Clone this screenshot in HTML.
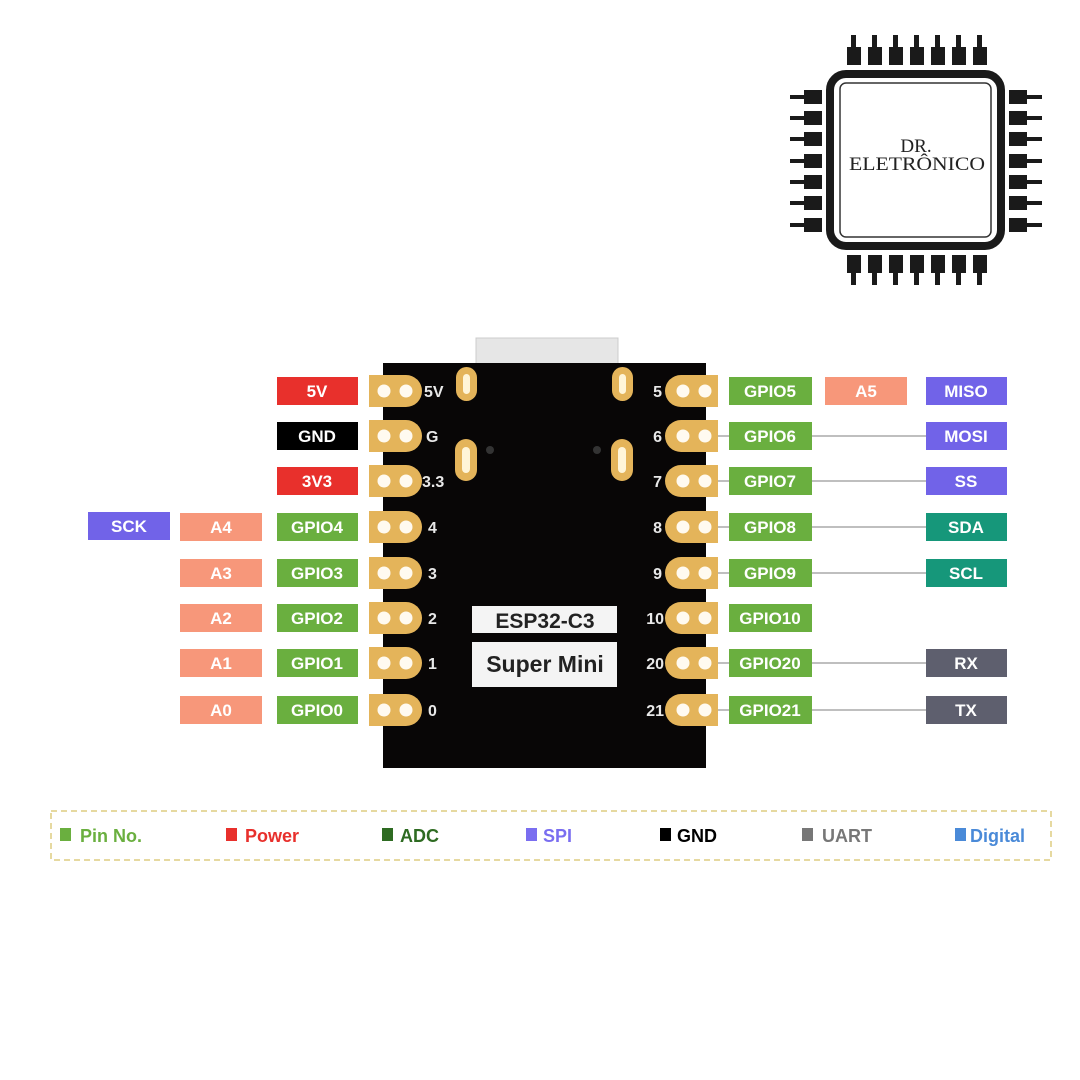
<!DOCTYPE html>
<html><head><meta charset="utf-8"><style>
html,body{margin:0;padding:0;background:#fff;}
svg{display:block;}
text{font-family:"Liberation Sans",sans-serif;font-weight:bold;}
.lb{font-size:17px;fill:#fff;text-anchor:middle;}
.pn{font-size:16px;fill:#e8e8e8;}
</style></head><body>
<svg width="1080" height="1080" viewBox="0 0 1080 1080" xmlns="http://www.w3.org/2000/svg">
<rect width="1080" height="1080" fill="#fff"/>
<!-- logo -->
<g fill="#1a1a1a">
<g id="tp">
<rect x="851" y="35" width="5" height="14"/><rect x="847" y="47" width="14" height="18"/>
<rect x="872" y="35" width="5" height="14"/><rect x="868" y="47" width="14" height="18"/>
<rect x="893" y="35" width="5" height="14"/><rect x="889" y="47" width="14" height="18"/>
<rect x="914" y="35" width="5" height="14"/><rect x="910" y="47" width="14" height="18"/>
<rect x="935" y="35" width="5" height="14"/><rect x="931" y="47" width="14" height="18"/>
<rect x="956" y="35" width="5" height="14"/><rect x="952" y="47" width="14" height="18"/>
<rect x="977" y="35" width="5" height="14"/><rect x="973" y="47" width="14" height="18"/>
</g>
<g transform="translate(0,320) scale(1,-1)">
<rect x="851" y="35" width="5" height="14"/><rect x="847" y="47" width="14" height="18"/>
<rect x="872" y="35" width="5" height="14"/><rect x="868" y="47" width="14" height="18"/>
<rect x="893" y="35" width="5" height="14"/><rect x="889" y="47" width="14" height="18"/>
<rect x="914" y="35" width="5" height="14"/><rect x="910" y="47" width="14" height="18"/>
<rect x="935" y="35" width="5" height="14"/><rect x="931" y="47" width="14" height="18"/>
<rect x="956" y="35" width="5" height="14"/><rect x="952" y="47" width="14" height="18"/>
<rect x="977" y="35" width="5" height="14"/><rect x="973" y="47" width="14" height="18"/>
</g>
<rect x="790" y="95" width="16" height="4"/><rect x="804" y="90" width="18" height="14"/>
<rect x="790" y="116" width="16" height="4"/><rect x="804" y="111" width="18" height="14"/>
<rect x="790" y="137" width="16" height="4"/><rect x="804" y="132" width="18" height="14"/>
<rect x="790" y="159" width="16" height="4"/><rect x="804" y="154" width="18" height="14"/>
<rect x="790" y="180" width="16" height="4"/><rect x="804" y="175" width="18" height="14"/>
<rect x="790" y="201" width="16" height="4"/><rect x="804" y="196" width="18" height="14"/>
<rect x="790" y="223" width="16" height="4"/><rect x="804" y="218" width="18" height="14"/>
<rect x="1026" y="95" width="16" height="4"/><rect x="1009" y="90" width="18" height="14"/>
<rect x="1026" y="116" width="16" height="4"/><rect x="1009" y="111" width="18" height="14"/>
<rect x="1026" y="137" width="16" height="4"/><rect x="1009" y="132" width="18" height="14"/>
<rect x="1026" y="159" width="16" height="4"/><rect x="1009" y="154" width="18" height="14"/>
<rect x="1026" y="180" width="16" height="4"/><rect x="1009" y="175" width="18" height="14"/>
<rect x="1026" y="201" width="16" height="4"/><rect x="1009" y="196" width="18" height="14"/>
<rect x="1026" y="223" width="16" height="4"/><rect x="1009" y="218" width="18" height="14"/>
</g>
<rect x="830" y="74" width="171" height="172" rx="16" fill="#fff" stroke="#1a1a1a" stroke-width="8"/>
<rect x="840" y="83" width="151" height="154" rx="6" fill="none" stroke="#333" stroke-width="1.5"/>
<text x="916" y="152" font-family="Liberation Serif,serif" font-weight="normal" font-size="19" fill="#222" text-anchor="middle" style="font-family:'Liberation Serif',serif;font-weight:normal">DR.</text>
<text x="849" y="170" textLength="136" lengthAdjust="spacingAndGlyphs" font-size="19" fill="#222" style="font-family:'Liberation Serif',serif;font-weight:normal">ELETRÔNICO</text>

<!-- connector lines -->
<g stroke="#aaa" stroke-width="1.5">
<line x1="718" y1="436" x2="926" y2="436"/><line x1="718" y1="481" x2="926" y2="481"/>
<line x1="718" y1="527" x2="926" y2="527"/><line x1="718" y1="573" x2="926" y2="573"/>
<line x1="718" y1="663" x2="926" y2="663"/><line x1="718" y1="710" x2="926" y2="710"/>
</g>
<!-- board -->
<rect x="476" y="338" width="142" height="27" fill="#e6e6e6" stroke="#ccc"/>
<rect x="383" y="363" width="323" height="405" fill="#080606"/>
<g fill="#e4b45a"><rect x="456" y="367" width="21" height="34" rx="10.5"/><rect x="612" y="367" width="21" height="34" rx="10.5"/>
<rect x="455" y="439" width="22" height="42" rx="11"/><rect x="611" y="439" width="22" height="42" rx="11"/></g>
<g fill="#fff5d8"><rect x="463" y="374" width="7" height="20" rx="3.5"/><rect x="619" y="374" width="7" height="20" rx="3.5"/>
<rect x="462" y="447" width="8" height="26" rx="4"/><rect x="618" y="447" width="8" height="26" rx="4"/></g>
<circle cx="490" cy="450" r="4" fill="#333"/><circle cx="597" cy="450" r="4" fill="#333"/>
<rect x="472" y="606" width="145" height="27" fill="#f4f4f4"/>
<rect x="472" y="642" width="145" height="45" fill="#f4f4f4"/>
<text x="545" y="628" font-size="21" fill="#222" text-anchor="middle">ESP32-C3</text>
<text x="545" y="672" font-size="23" fill="#222" text-anchor="middle">Super Mini</text>

<!-- pads -->
<g fill="#e4b45a">
<path d="M369 375h37a16 16 0 0 1 0 32h-37z"/><path d="M369 420h37a16 16 0 0 1 0 32h-37z"/>
<path d="M369 465h37a16 16 0 0 1 0 32h-37z"/><path d="M369 511h37a16 16 0 0 1 0 32h-37z"/>
<path d="M369 557h37a16 16 0 0 1 0 32h-37z"/><path d="M369 602h37a16 16 0 0 1 0 32h-37z"/>
<path d="M369 647h37a16 16 0 0 1 0 32h-37z"/><path d="M369 694h37a16 16 0 0 1 0 32h-37z"/>
<path d="M718 375h-37a16 16 0 0 0 0 32h37z"/><path d="M718 420h-37a16 16 0 0 0 0 32h37z"/>
<path d="M718 465h-37a16 16 0 0 0 0 32h37z"/><path d="M718 511h-37a16 16 0 0 0 0 32h37z"/>
<path d="M718 557h-37a16 16 0 0 0 0 32h37z"/><path d="M718 602h-37a16 16 0 0 0 0 32h37z"/>
<path d="M718 647h-37a16 16 0 0 0 0 32h37z"/><path d="M718 694h-37a16 16 0 0 0 0 32h37z"/>
</g>
<g fill="#fffaf0">
<circle cx="384" cy="391" r="6.5"/><circle cx="406" cy="391" r="6.5"/>
<circle cx="384" cy="436" r="6.5"/><circle cx="406" cy="436" r="6.5"/>
<circle cx="384" cy="481" r="6.5"/><circle cx="406" cy="481" r="6.5"/>
<circle cx="384" cy="527" r="6.5"/><circle cx="406" cy="527" r="6.5"/>
<circle cx="384" cy="573" r="6.5"/><circle cx="406" cy="573" r="6.5"/>
<circle cx="384" cy="618" r="6.5"/><circle cx="406" cy="618" r="6.5"/>
<circle cx="384" cy="663" r="6.5"/><circle cx="406" cy="663" r="6.5"/>
<circle cx="384" cy="710" r="6.5"/><circle cx="406" cy="710" r="6.5"/>
<circle cx="683" cy="391" r="6.5"/><circle cx="705" cy="391" r="6.5"/>
<circle cx="683" cy="436" r="6.5"/><circle cx="705" cy="436" r="6.5"/>
<circle cx="683" cy="481" r="6.5"/><circle cx="705" cy="481" r="6.5"/>
<circle cx="683" cy="527" r="6.5"/><circle cx="705" cy="527" r="6.5"/>
<circle cx="683" cy="573" r="6.5"/><circle cx="705" cy="573" r="6.5"/>
<circle cx="683" cy="618" r="6.5"/><circle cx="705" cy="618" r="6.5"/>
<circle cx="683" cy="663" r="6.5"/><circle cx="705" cy="663" r="6.5"/>
<circle cx="683" cy="710" r="6.5"/><circle cx="705" cy="710" r="6.5"/>
</g>
<g class="pn">
<text x="424" y="397" class="pn">5V</text><text x="426" y="442" class="pn">G</text>
<text x="422" y="487" class="pn">3.3</text><text x="428" y="533" class="pn">4</text>
<text x="428" y="579" class="pn">3</text><text x="428" y="624" class="pn">2</text>
<text x="428" y="669" class="pn">1</text><text x="428" y="716" class="pn">0</text>
</g>
<g class="pn" text-anchor="end">
<text x="662" y="397" class="pn" text-anchor="end">5</text><text x="662" y="442" class="pn" text-anchor="end">6</text>
<text x="662" y="487" class="pn" text-anchor="end">7</text><text x="662" y="533" class="pn" text-anchor="end">8</text>
<text x="662" y="579" class="pn" text-anchor="end">9</text><text x="664" y="624" class="pn" text-anchor="end">10</text>
<text x="664" y="669" class="pn" text-anchor="end">20</text><text x="664" y="716" class="pn" text-anchor="end">21</text>
</g>

<!-- left labels -->
<rect x="277" y="377" width="81" height="28" fill="#e8302c"/><text x="317" y="397" class="lb">5V</text>
<rect x="277" y="422" width="81" height="28" fill="#000"/><text x="317" y="442" class="lb">GND</text>
<rect x="277" y="467" width="81" height="28" fill="#e8302c"/><text x="317" y="487" class="lb">3V3</text>
<g fill="#6aaf3f">
<rect x="277" y="513" width="81" height="28"/><rect x="277" y="559" width="81" height="28"/>
<rect x="277" y="604" width="81" height="28"/><rect x="277" y="649" width="81" height="28"/>
<rect x="277" y="696" width="81" height="28"/>
</g>
<text x="317" y="533" class="lb">GPIO4</text><text x="317" y="579" class="lb">GPIO3</text>
<text x="317" y="624" class="lb">GPIO2</text><text x="317" y="669" class="lb">GPIO1</text>
<text x="317" y="716" class="lb">GPIO0</text>
<g fill="#f7977a">
<rect x="180" y="513" width="82" height="28"/><rect x="180" y="559" width="82" height="28"/>
<rect x="180" y="604" width="82" height="28"/><rect x="180" y="649" width="82" height="28"/>
<rect x="180" y="696" width="82" height="28"/>
</g>
<text x="221" y="533" class="lb">A4</text><text x="221" y="579" class="lb">A3</text>
<text x="221" y="624" class="lb">A2</text><text x="221" y="669" class="lb">A1</text>
<text x="221" y="716" class="lb">A0</text>
<rect x="88" y="512" width="82" height="28" fill="#7163e8"/><text x="129" y="532" class="lb">SCK</text>

<!-- right labels -->
<g fill="#6aaf3f">
<rect x="729" y="377" width="83" height="28"/><rect x="729" y="422" width="83" height="28"/>
<rect x="729" y="467" width="83" height="28"/><rect x="729" y="513" width="83" height="28"/>
<rect x="729" y="559" width="83" height="28"/><rect x="729" y="604" width="83" height="28"/>
<rect x="729" y="649" width="83" height="28"/><rect x="729" y="696" width="83" height="28"/>
</g>
<text x="770" y="397" class="lb">GPIO5</text><text x="770" y="442" class="lb">GPIO6</text>
<text x="770" y="487" class="lb">GPIO7</text><text x="770" y="533" class="lb">GPIO8</text>
<text x="770" y="579" class="lb">GPIO9</text><text x="770" y="624" class="lb">GPIO10</text>
<text x="770" y="669" class="lb">GPIO20</text><text x="770" y="716" class="lb">GPIO21</text>
<rect x="825" y="377" width="82" height="28" fill="#f7977a"/><text x="866" y="397" class="lb">A5</text>
<g fill="#7163e8"><rect x="926" y="377" width="81" height="28"/><rect x="926" y="422" width="81" height="28"/><rect x="926" y="467" width="81" height="28"/></g>
<g fill="#16977a"><rect x="926" y="513" width="81" height="28"/><rect x="926" y="559" width="81" height="28"/></g>
<g fill="#5e5f6e"><rect x="926" y="649" width="81" height="28"/><rect x="926" y="696" width="81" height="28"/></g>
<text x="966" y="397" class="lb">MISO</text><text x="966" y="442" class="lb">MOSI</text>
<text x="966" y="487" class="lb">SS</text><text x="966" y="533" class="lb">SDA</text>
<text x="966" y="579" class="lb">SCL</text><text x="966" y="669" class="lb">RX</text>
<text x="966" y="716" class="lb">TX</text>

<!-- legend -->
<rect x="51" y="811" width="1000" height="49" fill="none" stroke="#e6d9a0" stroke-width="2" stroke-dasharray="6 4"/>
<g font-size="18">
<rect x="60" y="828" width="11" height="13" fill="#6aaf3f"/><text x="80" y="842" fill="#6aaf3f">Pin No.</text>
<rect x="226" y="828" width="11" height="13" fill="#e8302c"/><text x="245" y="842" fill="#e8302c">Power</text>
<rect x="382" y="828" width="11" height="13" fill="#2e6b22"/><text x="400" y="842" fill="#2e6b22">ADC</text>
<rect x="526" y="828" width="11" height="13" fill="#7a6ef0"/><text x="543" y="842" fill="#7a6ef0">SPI</text>
<rect x="660" y="828" width="11" height="13" fill="#000"/><text x="677" y="842" fill="#000">GND</text>
<rect x="802" y="828" width="11" height="13" fill="#777"/><text x="822" y="842" fill="#777">UART</text>
<rect x="955" y="828" width="11" height="13" fill="#4a8ad8"/><text x="970" y="842" fill="#4a8ad8">Digital</text>
</g>
</svg>
</body></html>
